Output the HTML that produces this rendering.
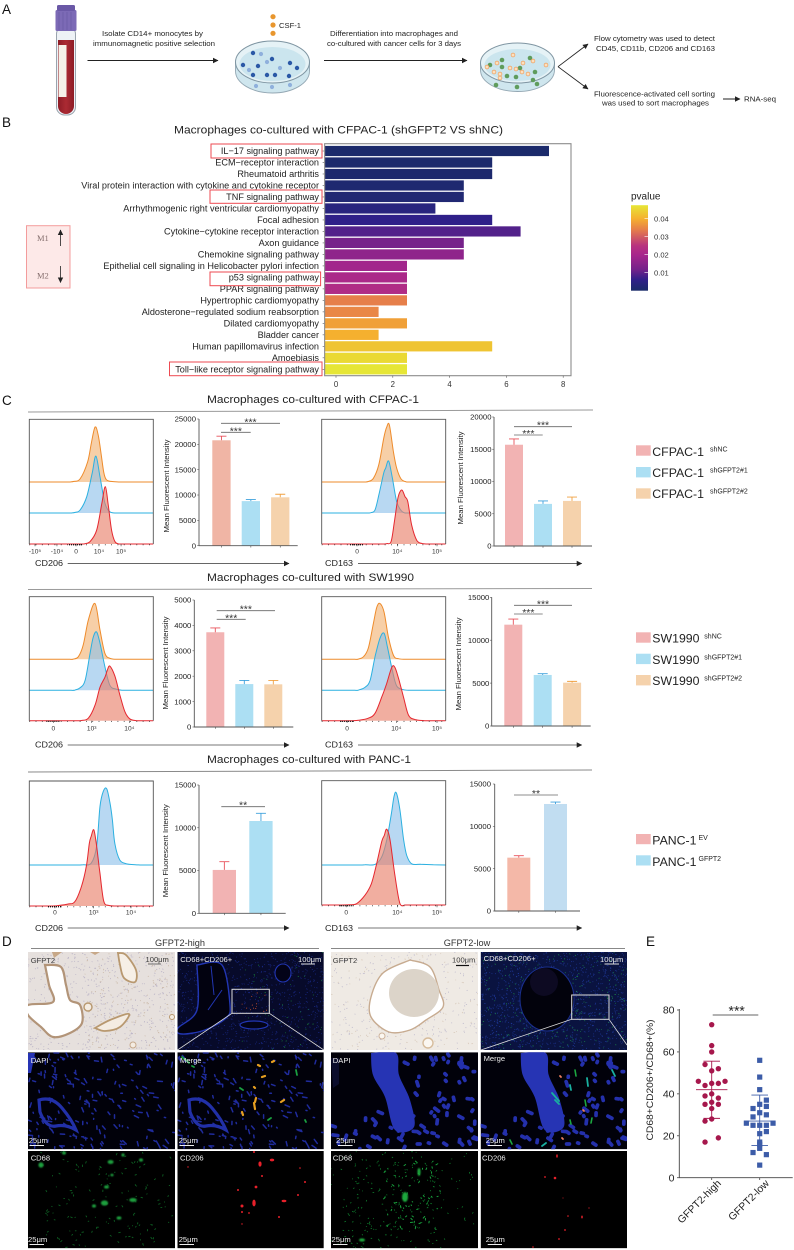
<!DOCTYPE html>
<html lang="en">
<head>
<meta charset="utf-8">
<title>Macrophage co-culture figure</title>
<style>
html,body{margin:0;padding:0;background:#fff;}
svg text{font-family:"Liberation Sans",sans-serif;}
#fig{display:block;width:794px;height:1250px;}
.lbl{fill:#eee;font-size:7.6px;}
.dk{fill:#3a3a3a;font-size:7.6px;}
.pa{fill:#222;font-size:7.4px;}
.t{fill:#222;font-size:11.3px;}
.pl{fill:#111;font-size:13.5px;}
</style>
</head>
<body>
<svg id="fig" xmlns="http://www.w3.org/2000/svg" width="794" height="1250" viewBox="0 0 794 1250">
<defs>
<marker id="ah" markerWidth="6" markerHeight="6" refX="5" refY="3" orient="auto" markerUnits="userSpaceOnUse"><path d="M0 .3L5.5 3L0 5.7z" fill="#222"/></marker>
<filter id="blur1" x="-50%" y="-50%" width="200%" height="200%"><feGaussianBlur stdDeviation="0.8"/></filter>
<linearGradient id="bloodGrad" x1="0" x2="1" y1="0" y2="0"><stop offset="0" stop-color="#8e1c26"/><stop offset=".5" stop-color="#ab2a33"/><stop offset="1" stop-color="#8e1c26"/></linearGradient>
</defs>

<!-- panel letters -->
<text class="pl" x="2" y="14">A</text>
<text class="pl" x="2" y="127">B</text>
<text class="pl" x="2" y="405">C</text>
<text class="pl" x="2" y="946">D</text>
<text class="pl" x="646" y="946">E</text>

<!-- PANEL A -->
<g>
 <g>
  <rect x="56.5" y="26" width="19" height="89" rx="8" fill="#eef2f6" stroke="#9aa4ae" stroke-width="1"/>
  <path d="M58 40H74V106a8 8 0 0 1-16 0z" fill="url(#bloodGrad)"/>
  <rect x="58.5" y="45" width="8" height="52" fill="#f6f1e9"/>
  <rect x="55.5" y="10" width="21" height="21" rx="1.5" fill="#7c6ab6"/>
  <rect x="57" y="5" width="18" height="6" rx="1.5" fill="#6a58a6"/>
  <path d="M59 12V30M63 12V30M67 12V30M71 12V30" stroke="#6655a0" stroke-width=".6"/>
 </g>
 <text class="pa" x="102" y="36" textLength="101" lengthAdjust="spacingAndGlyphs">Isolate CD14+ monocytes by</text>
 <text class="pa" x="93" y="46" textLength="122" lengthAdjust="spacingAndGlyphs">immunomagnetic positive selection</text>
 <line x1="87.5" y1="60.5" x2="218" y2="60.5" stroke="#222" stroke-width=".9" marker-end="url(#ah)"/>
 <g fill="#e8962e">
  <circle cx="273" cy="16.7" r="2.6"/><circle cx="273" cy="25" r="2.6"/><circle cx="273" cy="33.3" r="2.6"/>
 </g>
 <text class="pa" x="279" y="28" textLength="22" lengthAdjust="spacingAndGlyphs">CSF-1</text>
 <g id="dish-monocytes">
  <ellipse cx="272.5" cy="71" rx="37" ry="22" fill="#cfe6ee" stroke="#93a7b3" stroke-width=".9"/>
  <rect x="235.5" y="62" width="74" height="9" fill="#cfe6ee"/>
  <path d="M235.5 62V71M309.5 62V71" stroke="#93a7b3" stroke-width=".9"/>
  <ellipse cx="272.5" cy="62" rx="37" ry="21" fill="#e5f2f6" stroke="#7f95a2" stroke-width="1"/>
  <ellipse cx="272.5" cy="64" rx="33" ry="17" fill="#cbe5ee"/>
 </g>
 <text class="pa" x="330" y="36" textLength="128" lengthAdjust="spacingAndGlyphs">Differentiation into macrophages and</text>
 <text class="pa" x="327" y="46" textLength="134" lengthAdjust="spacingAndGlyphs">co-cultured with cancer cells for 3 days</text>
 <line x1="324" y1="60.5" x2="467" y2="60.5" stroke="#222" stroke-width=".9" marker-end="url(#ah)"/>
 <g id="dish-coculture">
  <ellipse cx="517.5" cy="70" rx="37" ry="21.5" fill="#cfe6ee" stroke="#93a7b3" stroke-width=".9"/>
  <rect x="480.5" y="63" width="74" height="7" fill="#cfe6ee"/>
  <path d="M480.5 63V70M554.5 63V70" stroke="#93a7b3" stroke-width=".9"/>
  <ellipse cx="517.5" cy="63" rx="37" ry="20" fill="#e5f2f6" stroke="#7f95a2" stroke-width="1"/>
  <ellipse cx="517.5" cy="65" rx="33" ry="16" fill="#cbe5ee"/>
 </g>
 <line x1="558" y1="66.7" x2="588" y2="44" stroke="#222" stroke-width=".9" marker-end="url(#ah)"/>
 <line x1="558" y1="66.7" x2="588" y2="89" stroke="#222" stroke-width=".9" marker-end="url(#ah)"/>
 <text class="pa" x="594" y="41" textLength="121" lengthAdjust="spacingAndGlyphs">Flow cytometry was used to detect</text>
 <text class="pa" x="596" y="51" textLength="119" lengthAdjust="spacingAndGlyphs">CD45, CD11b, CD206 and CD163</text>
 <text class="pa" x="594" y="96.5" textLength="121" lengthAdjust="spacingAndGlyphs">Fluorescence-activated cell sorting</text>
 <text class="pa" x="602" y="105.5" textLength="107" lengthAdjust="spacingAndGlyphs">was used to sort macrophages</text>
 <line x1="723" y1="99" x2="740" y2="99" stroke="#222" stroke-width=".9" marker-end="url(#ah)"/>
 <text class="pa" x="744" y="101.5" textLength="32" lengthAdjust="spacingAndGlyphs">RNA-seq</text>
</g>

<!-- PANEL B -->
<text x="174" y="133.5" font-size="11" fill="#222" textLength="329" lengthAdjust="spacingAndGlyphs">Macrophages co-cultured with CFPAC-1 (shGFPT2 VS shNC)</text>
<g>
 <rect x="26.5" y="225.7" width="43.5" height="62.3" fill="#fde9e8" stroke="#f39c9c" stroke-width="1"/>
 <text x="37" y="241" font-size="8.5" fill="#86706f" style="font-family:'Liberation Serif',serif">M1</text>
 <text x="37" y="278.5" font-size="8.5" fill="#86706f" style="font-family:'Liberation Serif',serif">M2</text>
 <line x1="60.5" y1="246" x2="60.5" y2="230" stroke="#222" stroke-width=".8" marker-end="url(#ah)"/>
 <line x1="60.5" y1="266" x2="60.5" y2="282.5" stroke="#222" stroke-width=".8" marker-end="url(#ah)"/>
</g>
<g id="enrichment-chart"></g>
<g id="pvalue-legend"></g>
<g fill="none" stroke="#ee4a52" stroke-width="1">
 <rect x="211" y="144" width="111" height="14"/>
 <rect x="210" y="190" width="112" height="13.3"/>
 <rect x="210" y="272" width="110.6" height="13.7"/>
 <rect x="169.5" y="362" width="152.5" height="13.7"/>
</g>

<!-- PANEL C -->
<text class="t" x="207" y="403" textLength="212" lengthAdjust="spacingAndGlyphs">Macrophages co-cultured with CFPAC-1</text>
<line x1="28" y1="412" x2="593" y2="410" stroke="#9a9a9a" stroke-width="1"/>
<text class="t" x="207" y="581" textLength="207" lengthAdjust="spacingAndGlyphs">Macrophages co-cultured with SW1990</text>
<line x1="28" y1="589.5" x2="592" y2="588.5" stroke="#9a9a9a" stroke-width="1"/>
<text class="t" x="207" y="763" textLength="204" lengthAdjust="spacingAndGlyphs">Macrophages co-cultured with PANC-1</text>
<line x1="28" y1="772" x2="592" y2="770" stroke="#8a8a8a" stroke-width="1"/>

<g id="hist-a"></g>
<g id="hist-b"></g>
<g id="hist-c"></g>
<g id="hist-d"></g>
<g id="hist-e"></g>
<g id="hist-f"></g>

<g id="bars-a"></g>
<g id="bars-b"></g>
<g id="bars-c"></g>
<g id="bars-d"></g>
<g id="bars-e"></g>
<g id="bars-f"></g>

<g font-size="8.3" fill="#222">
 <text x="35" y="566" textLength="28" lengthAdjust="spacingAndGlyphs">CD206</text>
 <line x1="67.7" y1="563.5" x2="289" y2="563.5" stroke="#333" stroke-width=".8" marker-end="url(#ah)"/>
 <text x="325" y="566" textLength="28" lengthAdjust="spacingAndGlyphs">CD163</text>
 <line x1="358" y1="563.5" x2="581.7" y2="563.5" stroke="#333" stroke-width=".8" marker-end="url(#ah)"/>
 <text x="35" y="747.5" textLength="28" lengthAdjust="spacingAndGlyphs">CD206</text>
 <line x1="67.7" y1="745" x2="289" y2="745" stroke="#777" stroke-width="1" marker-end="url(#ah)"/>
 <text x="325" y="747.5" textLength="28" lengthAdjust="spacingAndGlyphs">CD163</text>
 <line x1="358" y1="745" x2="581.7" y2="745" stroke="#777" stroke-width="1" marker-end="url(#ah)"/>
 <text x="35" y="931" textLength="28" lengthAdjust="spacingAndGlyphs">CD206</text>
 <line x1="67.7" y1="928" x2="289" y2="928" stroke="#777" stroke-width="1" marker-end="url(#ah)"/>
 <text x="325" y="931" textLength="28" lengthAdjust="spacingAndGlyphs">CD163</text>
 <line x1="358" y1="928" x2="581.7" y2="928" stroke="#777" stroke-width="1" marker-end="url(#ah)"/>
</g>

<!-- legends -->
<g fill="#222">
 <rect x="636" y="445.3" width="14.7" height="10.4" fill="#f2b3b3"/>
 <rect x="636" y="467" width="14.7" height="10.4" fill="#acdff3"/>
 <rect x="636" y="488.3" width="14.7" height="10.4" fill="#f5d2ac"/>
 <text x="652.3" y="456" font-size="12.3">CFPAC-1</text>
 <text x="710" y="451.5" font-size="7">shNC</text>
 <text x="652.3" y="477" font-size="12.3">CFPAC-1</text>
 <text x="710" y="472.5" font-size="7">shGFPT2#1</text>
 <text x="652.3" y="498" font-size="12.3">CFPAC-1</text>
 <text x="710" y="493.5" font-size="7">shGFPT2#2</text>
</g>
<g fill="#222">
 <rect x="636" y="632.3" width="14.7" height="10.4" fill="#f2b3b3"/>
 <rect x="636" y="653.7" width="14.7" height="10.4" fill="#acdff3"/>
 <rect x="636" y="675" width="14.7" height="10.4" fill="#f5d2ac"/>
 <text x="652.3" y="642.5" font-size="12.3">SW1990</text>
 <text x="704.3" y="638.5" font-size="7">shNC</text>
 <text x="652.3" y="664" font-size="12.3">SW1990</text>
 <text x="704.3" y="659.5" font-size="7">shGFPT2#1</text>
 <text x="652.3" y="685" font-size="12.3">SW1990</text>
 <text x="704.3" y="680.5" font-size="7">shGFPT2#2</text>
</g>
<g fill="#222">
 <rect x="636" y="834" width="14.7" height="10.2" fill="#f2b3b3"/>
 <rect x="636" y="855.3" width="14.7" height="10.2" fill="#acdff3"/>
 <text x="652.3" y="844.5" font-size="12.3">PANC-1</text>
 <text x="698.5" y="840" font-size="7">EV</text>
 <text x="652.3" y="866" font-size="12.3">PANC-1</text>
 <text x="698.5" y="861" font-size="7">GFPT2</text>
</g>

<!-- PANEL D -->
<text x="180" y="946" font-size="9.2" fill="#333" text-anchor="middle">GFPT2-high</text>
<line x1="31" y1="948.5" x2="319" y2="948.5" stroke="#888" stroke-width="1"/>
<text x="467" y="946" font-size="9.2" fill="#333" text-anchor="middle">GFPT2-low</text>
<line x1="331" y1="948.5" x2="625" y2="948.5" stroke="#888" stroke-width="1"/>

<svg x="28" y="952" width="147" height="98" viewBox="28 952 147 98">
 <rect x="28" y="952" width="147" height="98" fill="#e6e0dd"/>
 <g id="mg-ihc-high"></g>
 <path class="blob" d="M45 965L61 967L66 985L70 1000L80 1005L82 1023L70 1033L53 1037L41 1027L28 1015L28 1005L53 1002L49 985Z" fill="#fff" stroke="#b29478" stroke-width="2.2"/>
 <path class="blob" d="M118 953L126 955L136 970L135 982L124 978L120 965Z" fill="#f6efe6" stroke="#b8986f" stroke-width="1.8"/>
 <path class="blob" d="M95 1028L110 1020L129 1014L120 1027L105 1031Z" fill="#f4ece2" stroke="#b8986f" stroke-width="1.8"/>
 <circle cx="88" cy="1007" r="4" fill="#f4ece2" stroke="#b8986f" stroke-width="1.4"/>
 <circle cx="172" cy="1017" r="2.5" fill="#f4ece2" stroke="#b8986f" stroke-width="1"/>
 <circle cx="133" cy="1045" r="3" fill="#f4ece2" stroke="#c6a98c" stroke-width="1"/>
 <path d="M52 952H62L54 958ZM90 952H100L95 955Z" fill="#c7a888"/>
</svg>
<svg x="177.5" y="952" width="146.3" height="98" viewBox="177.5 952 146.3 98">
 <rect x="177.5" y="952" width="146.3" height="98" fill="#070a2a"/>
 <g id="mg-if-high"></g>
 <path class="blob" d="M197 965L222 965L230 1005L226 1018L205 1030L182 1034L178 1028L197 1010Z" fill="#020210" stroke="#2236b4" stroke-width="1.4"/>
 <ellipse cx="283" cy="973" rx="8" ry="9" fill="#030318" stroke="#2236b4" stroke-width="1.1"/>
 <ellipse cx="254" cy="1025" rx="14" ry="4" fill="#030318" stroke="#2236b4" stroke-width="1.2"/>
 <path d="M211 966L214 995M222 990L208 1010" stroke="#2236b4" stroke-width="1" fill="none"/>
 <rect x="232" y="989.3" width="37.3" height="24" fill="none" stroke="#ddd" stroke-width="1"/>
 <path d="M232 1013.3L177.5 1050M269.3 1013.3L323.8 1050" stroke="#ddd" stroke-width=".8"/>
</svg>
<svg x="331" y="952" width="147" height="98" viewBox="331 952 147 98">
 <rect x="331" y="952" width="147" height="98" fill="#efeae4"/>
 <g id="mg-ihc-low"></g>
 <path class="blob" d="M410 960L430 967L439 990L443 1007L426 1020L410 1030L389 1032L371 1017L371 997L383 973Z" fill="#fff" stroke="#c7ab90" stroke-width="1.4"/>
 <ellipse cx="414" cy="993" rx="25" ry="24" fill="#dcd4c9"/>
 <circle cx="428" cy="1043" r="5" fill="#fbf7f1" stroke="#d6bc9c" stroke-width="1.4"/>
 <circle cx="382" cy="1036" r="3" fill="#fbf7f1" stroke="#cdb39c" stroke-width="1"/>
</svg>
<svg x="480.7" y="952" width="146.3" height="98" viewBox="480.7 952 146.3 98">
 <rect x="480.7" y="952" width="146.3" height="98" fill="#0a1340"/>
 <g id="mg-if-low"></g>
 <ellipse cx="547" cy="999" rx="27" ry="32" fill="#02020c" stroke="#1a2f8e" stroke-width="1"/>
 <ellipse cx="544" cy="982" rx="14" ry="14" fill="#0d0a22"/>
 <rect x="571.7" y="995" width="37.3" height="24.3" fill="none" stroke="#ddd" stroke-width="1"/>
 <path d="M571.7 1019.3L481 1050M609 1019.3L627 1045" stroke="#ddd" stroke-width=".8"/>
</svg>

<svg x="28" y="1052.3" width="147" height="97" viewBox="28 1052.3 147 97">
 <rect x="28" y="1052.3" width="147" height="97" fill="#01010a"/>
 <g id="mg-dapi-high"></g>
 <path d="M39 1100Q52 1096 62 1108T76 1130Q66 1124 56 1126T40 1112Z" fill="none" stroke="#2230a8" stroke-width="3.2"/>
 <path d="M28 1053H35L31 1073H28Z" fill="#2634b4"/>
</svg>
<svg x="177.5" y="1052.3" width="146.3" height="97" viewBox="177.5 1052.3 146.3 97">
 <rect x="177.5" y="1052.3" width="146.3" height="97" fill="#01010a"/>
 <g id="mg-merge-high"></g>
 <path d="M189 1100Q202 1096 212 1108T226 1130Q216 1124 206 1126T190 1112Z" fill="none" stroke="#2230a8" stroke-width="3.2"/>
 <path d="M254 1103l1 6M262 1077l3 -1M281 1102l3 -2M258 1065l2 1M272 1062l2 -1M242 1112l1 3M254 1087l1 1M256 1098l-1 4" stroke="#e8a020" stroke-width="2.2" stroke-linecap="round" fill="none"/>
 <path d="M186 1060l3 3M192 1066l2 1M305 1120l1 2M268 1120l3 -2M296 1070l1 5M240 1088l3 2M182 1057l2 2" stroke="#1aa040" stroke-width="1.8" stroke-linecap="round" fill="none"/>
</svg>
<svg x="331" y="1052.3" width="147" height="97" viewBox="331 1052.3 147 97">
 <rect x="331" y="1052.3" width="147" height="97" fill="#01010a"/>
 <g id="mg-dapi-low"></g>
 <path class="blob" d="M371 1053L396 1053L399 1075L410 1100L414 1127L395 1130L385 1097L373 1075Z" fill="#2634b4"/>
 <path d="M331 1058h8v26l-6 4z" fill="#0b0d2c"/>
</svg>
<svg x="480.7" y="1052.3" width="146.3" height="97" viewBox="480.7 1052.3 146.3 97">
 <rect x="480.7" y="1052.3" width="146.3" height="97" fill="#01010a"/>
 <g id="mg-merge-low"></g>
 <path class="blob" d="M520.7 1053L545.7 1053L548.7 1075L559.7 1100L563.7 1127L544.7 1130L534.7 1097L522.7 1075Z" fill="#2634b4"/>
 <path d="M552 1093l7 8M555 1100l4 4M546 1143l-4 3M587 1078l1 8M612 1070l3 6M570 1085l1 5" stroke="#19b0a0" stroke-width="1.8" stroke-linecap="round" fill="none"/>
 <path d="M585 1100l1 6M592 1118l-1 5M570 1120l1 4M510 1140l2 4M575 1070l1 6" stroke="#1ca840" stroke-width="1.6" stroke-linecap="round" fill="none"/>
 <path d="M560 1076l1 1M583 1110l1 1M562 1138l1 1" stroke="#f08060" stroke-width="1.8" stroke-linecap="round" fill="none"/>
</svg>

<svg x="28" y="1151" width="147" height="97.3" viewBox="28 1151 147 97.3">
 <rect x="28" y="1151" width="147" height="97.3" fill="#000"/>
 <g id="mg-cd68-high"></g>
 <g fill="#1c9e3c" filter="url(#blur1)">
  <ellipse cx="104.5" cy="1203" rx="3.6" ry="2.6"/><ellipse cx="133" cy="1200" rx="3.8" ry="2"/><ellipse cx="110.6" cy="1162" rx="3" ry="2"/><ellipse cx="41" cy="1165" rx="2.6" ry="2.6"/><ellipse cx="106.5" cy="1187" rx="2.4" ry="1.6"/><ellipse cx="141" cy="1160" rx="2" ry="1.6"/><ellipse cx="94" cy="1206" rx="2" ry="1.6"/><ellipse cx="119" cy="1218" rx="2.4" ry="1.6"/><ellipse cx="123" cy="1155" rx="1.6" ry="1.6"/><ellipse cx="64" cy="1153" rx="2" ry="1.6"/><ellipse cx="112" cy="1175" rx="1.6" ry="1.3"/>
 </g>
</svg>
<svg x="177.5" y="1151" width="146.3" height="97.3" viewBox="177.5 1151 146.3 97.3">
 <rect x="177.5" y="1151" width="146.3" height="97.3" fill="#000"/>
 <g fill="#e8202a">
  <ellipse cx="254" cy="1203" rx="1.7" ry="3.4"/><circle cx="242" cy="1206" r="1.5"/><circle cx="256" cy="1187" r="1.4"/><ellipse cx="260" cy="1164" rx="1.6" ry="2.6"/><ellipse cx="272" cy="1160" rx="2.2" ry="1.4"/><circle cx="262" cy="1176" r="1"/><ellipse cx="284" cy="1201" rx="2.4" ry="1.2"/><circle cx="238" cy="1190" r="1"/><circle cx="242" cy="1212" r="1"/><circle cx="305" cy="1182" r="1"/><circle cx="279" cy="1217" r="1"/><circle cx="249" cy="1213" r=".9"/><circle cx="298" cy="1195" r="1"/><circle cx="188" cy="1167" r=".7"/><circle cx="242" cy="1224" r=".7"/><circle cx="254" cy="1152" r="1"/><circle cx="300" cy="1168" r=".8"/>
 </g>
</svg>
<svg x="331" y="1151" width="147" height="97.3" viewBox="331 1151 147 97.3">
 <rect x="331" y="1151" width="147" height="97.3" fill="#000"/>
 <g id="mg-cd68-low"></g>
 <ellipse cx="405" cy="1197" rx="3" ry="5" fill="#1ca83c" filter="url(#blur1)"/>
 <ellipse cx="419" cy="1172" rx="1.6" ry="4" fill="#1ca83c" filter="url(#blur1)"/>
 <ellipse cx="362" cy="1240" rx="3" ry="1.6" fill="#1ca83c" filter="url(#blur1)"/>
</svg>
<svg x="480.7" y="1151" width="146.3" height="97.3" viewBox="480.7 1151 146.3 97.3">
 <rect x="480.7" y="1151" width="146.3" height="97.3" fill="#000"/>
 <g fill="#e8202a">
  <ellipse cx="557" cy="1156" rx=".8" ry="1.8"/><circle cx="555" cy="1178" r="1.3"/><circle cx="545" cy="1177" r=".9"/><ellipse cx="582" cy="1217" rx=".8" ry="1.5"/><circle cx="568" cy="1216" r=".8"/><circle cx="565" cy="1230" r=".9"/><circle cx="559" cy="1239" r=".9"/><circle cx="533" cy="1247" r=".8"/><circle cx="589" cy="1208" r=".6"/><circle cx="563" cy="1198" r=".5"/>
 </g>
</svg>

<g>
 <text class="dk" x="30.7" y="963">GFPT2</text>
 <text class="dk" x="145.5" y="962">100μm</text>
 <line x1="148" y1="964" x2="161" y2="964" stroke="#6e6e6e" stroke-width="1"/>
 <text class="lbl" x="180.3" y="962">CD68+CD206+</text>
 <text class="lbl" x="298" y="962">100μm</text>
 <line x1="301" y1="964" x2="315" y2="964" stroke="#ddd" stroke-width="1"/>
 <text class="dk" x="332.8" y="963">GFPT2</text>
 <text class="dk" x="452" y="962.5">100μm</text>
 <line x1="456" y1="965.5" x2="469" y2="965.5" stroke="#111" stroke-width="1.2"/>
 <text class="lbl" x="483.6" y="961">CD68+CD206+</text>
 <text class="lbl" x="600" y="962">100μm</text>
 <line x1="604.5" y1="964" x2="619" y2="964" stroke="#ddd" stroke-width="1"/>

 <text class="lbl" x="30.7" y="1063">DAPI</text>
 <text class="lbl" x="180" y="1063">Merge</text>
 <text class="lbl" x="332.8" y="1063">DAPI</text>
 <text class="lbl" x="483.6" y="1061">Merge</text>
 <text class="lbl" x="28.7" y="1143">25μm</text>
 <text class="lbl" x="178.7" y="1143">25μm</text>
 <text class="lbl" x="336" y="1143">25μm</text>
 <text class="lbl" x="485.7" y="1143">25μm</text>
 <path d="M29.5 1145.5H44M179.5 1145.5H194M338 1145.5H352.5M487.7 1145.5H502" stroke="#eee" stroke-width="1"/>

 <text class="lbl" x="30.7" y="1160.5">CD68</text>
 <text class="lbl" x="180" y="1160.5">CD206</text>
 <text class="lbl" x="332.8" y="1160.5">CD68</text>
 <text class="lbl" x="482" y="1160.5">CD206</text>
 <text class="lbl" x="28" y="1242">25μm</text>
 <text class="lbl" x="178.7" y="1242">25μm</text>
 <text class="lbl" x="331.5" y="1242">25μm</text>
 <text class="lbl" x="485.7" y="1242">25μm</text>
 <path d="M29.5 1244.5H44M179.5 1244.5H194M333 1244.5H347.5M487.7 1244.5H502" stroke="#eee" stroke-width="1"/>
</g>

<!-- PANEL E -->
<g id="scatter-chart"></g>
</svg>

<script>
// ---------- Panel B data ----------
const pathwayNames = ["IL−17 signaling pathway","ECM−receptor interaction","Rheumatoid arthritis","Viral protein interaction with cytokine and cytokine receptor","TNF signaling pathway","Arrhythmogenic right ventricular cardiomyopathy","Focal adhesion","Cytokine−cytokine receptor interaction","Axon guidance","Chemokine signaling pathway","Epithelial cell signaling in Helicobacter pylori infection","p53 signaling pathway","PPAR signaling pathway","Hypertrophic cardiomyopathy","Aldosterone−regulated sodium reabsorption","Dilated cardiomyopathy","Bladder cancer","Human papillomavirus infection","Amoebiasis","Toll−like receptor signaling pathway"];
const pathwayCounts = [7.5,5.5,5.5,4.5,4.5,3.5,5.5,6.5,4.5,4.5,2.5,2.5,2.5,2.5,1.5,2.5,1.5,5.5,2.5,2.5];
const pathwayPvalues = [0.0005,0.0008,0.001,0.0015,0.002,0.004,0.006,0.009,0.012,0.016,0.019,0.021,0.0225,0.034,0.035,0.038,0.040,0.043,0.046,0.048];
const enrichmentTicks = [0,2,4,6,8];
const pvalueStops = [0.0002,0.006,0.012,0.02,0.025,0.034,0.04,0.048];
const pvalueColors = ["#1a2b69","#2f2089","#76228a","#a8268c","#b8337f","#e67f4a","#f5b02f","#e6e636"];
const pvalueTicks = [0.01,0.02,0.03,0.04];

// ---------- Panel C bar data ----------
const groupsThree = ["shNC","shGFPT2#1","shGFPT2#2"];
const groupsTwo = ["Control","GFPT2"];
const cfpacCd206Means = [20800,8800,9550];
const cfpacCd206Errors = [800,300,600];
const cfpacCd163Means = [15700,6530,6990];
const cfpacCd163Errors = [900,450,600];
const sw1990Cd206Means = [3730,1690,1680];
const sw1990Cd206Errors = [170,145,155];
const sw1990Cd163Means = [11810,5950,5050];
const sw1990Cd163Errors = [650,150,150];
const pancCd206Means = [5070,10790];
const pancCd206Errors = [970,900];
const pancCd163Means = [6300,12640];
const pancCd163Errors = [230,230];
const ticks25k = [0,5000,10000,15000,20000,25000];
const ticks20k = [0,5000,10000,15000,20000];
const ticks5k = [0,1000,2000,3000,4000,5000];
const ticks15k = [0,5000,10000,15000];

// ---------- Panel C histogram data: [axis percent, normalized count] ----------
const cfpacCd206Orange = [[33,0],[36,.5],[41,2.5],[47,16],[50,31],[53,44],[55.5,38],[58,22],[60,8],[62,2],[66,.5],[72,0]];
const cfpacCd206Blue = [[34,0],[37,.5],[41,2.4],[46.3,13],[50.7,32],[53.7,45.6],[57,29],[61,8],[65,1],[70,0]];
const cfpacCd206Red = [[44,0],[49,2],[54.3,11],[58.4,32],[61.3,46],[63.7,31],[66.4,11],[69,2],[72,0]];
const cfpacCd163Orange = [[35,0],[37.6,.4],[41.7,3],[46,13.6],[50,35],[52.4,44],[54.6,45.6],[57.8,24.3],[60.5,11],[64,2.4],[68.5,0]];
const cfpacCd163Blue = [[38,0],[40,.3],[43,2.5],[46,14],[50,32],[51.6,36],[54,41.6],[57,28],[60.5,9],[64,2],[67,0]];
const cfpacCd163Red = [[50,0],[52.4,.3],[56,2],[58.6,18],[61.3,36],[63.2,42],[65,43],[67.2,38],[69.4,34],[72.6,15],[76.6,3],[80.6,.5],[85,0]];
const sw1990Cd206Orange = [[33,0],[35.5,.2],[39.5,2],[43.5,11.5],[47.6,31.6],[53,45],[57,23.6],[61,4.8],[65,.8],[70,0]];
const sw1990Cd206Blue = [[34,0],[36.8,.2],[41,2],[45,8],[49,30],[51.6,43],[54.3,47],[57,38],[61,19],[65,4],[70,1],[75,0]];
const sw1990Cd206Red = [[40,0],[42,.2],[47.6,2],[53,12.5],[57,27],[61,35],[63,41],[65,44],[69,36],[73,21],[77,7.5],[81,1.5],[86.5,0]];
const sw1990Cd163Orange = [[27,0],[29.6,.2],[33.6,2],[37.6,9],[41.7,29],[44.4,42],[47,45],[50.3,38],[53.8,18],[58,3],[62,.5],[67,0]];
const sw1990Cd163Blue = [[27,0],[29.6,.2],[35,2.5],[39,8],[43,27],[47,42],[50.3,46],[53,35],[57,16],[60.5,3.5],[66,.5],[71,0]];
const sw1990Cd163Red = [[25,0],[29.6,.3],[37.6,2],[43,6],[48.4,19],[52.4,30],[56.5,43],[59,43],[62,34],[66,19],[70,4.5],[75,1],[83,0]];
const pancCd206Blue = [[40,0],[43.5,.2],[50,1.5],[54.3,15],[57,47],[59.7,59],[62.4,61],[65,50],[67,36],[69,17],[73,4],[78.5,1],[84,.3],[90,0]];
const pancCd206Red = [[18,0],[22,.2],[31,1.5],[36.8,3.5],[42,15.5],[46,31.7],[48.4,50],[50,56],[52,61],[54,50],[57,26],[60,4],[64,.5],[70,0]];
const pancCd163Blue = [[30,0],[35,.2],[43,.5],[48.4,6.5],[52.4,20],[56,40],[58.3,55],[60.2,58],[63,45],[66,21],[68.5,8],[72.6,1],[80,.6],[90,.2],[100,0]];
const pancCd163Red = [[16,0],[21.5,.2],[28,1],[35,8],[40,17],[44,32],[48.4,51],[50.5,56],[52.4,61],[55,53],[59,24],[63,1.5],[67,0]];

const cd206TicksA = ["-10⁵","-10⁴","0","10⁴","10⁵"];
const cd206TickAxisA = [4.6,22.3,37.7,56.2,74];
const cd163TicksA = ["0","10⁴","10⁵"];
const cd163TickAxisA = [28.5,61,93];
const cd206TicksB = ["0","10³","10⁴"];
const cd206TickAxisB = [19.4,50.3,80.7];
const cd163TicksB = ["0","10⁴","10⁵"];
const cd163TickAxisB = [20.5,60.2,93];
const cd206TicksC = ["0","10³","10⁴"];
const cd206TickAxisC = [20.7,51.9,82];
const cd163TicksC = ["0","10⁴","10⁵"];
const cd163TickAxisC = [19.8,61,93];

// ---------- Panel E data ----------
const scatterCategories = ["GFPT2-high","GFPT2-low"];
const highValues = [73,63,60,54,52,51,46,46,45,45,44,40,39,38,36,35,35,33,28,27,19,17];
const highSlots = [0,0,0,-1,1,0,-2,2,0,1,-1,0,-1,1,0,-1,1,0,0,-1,1,-1];
const highSummary = [42,55.6,28.3];
const lowValues = [56,48,42,37,35,34,33,31,30,29,26,26,25,25,25,22,21,17,16,14,12,11,6];
const lowSlots = [0,0,0,1,0,1,-1,0,1,-1,-2,2,-1,0,1,1,0,0,0,0,-1,1,0];
const lowSummary = [27,39.4,15.4];
const scatterTicks = [0,20,40,60,80];

// ---------- helpers ----------
const NS = 'http://www.w3.org/2000/svg';
function mk(parent, tag, attrs, txt) {
  const e = document.createElementNS(NS, tag);
  for (const k in attrs) e.setAttribute(k, attrs[k]);
  if (txt !== undefined) e.textContent = txt;
  parent.appendChild(e);
  return e;
}
function $(id) { return document.getElementById(id); }

// ---------- Panel A cells ----------
const dishOne = $('dish-monocytes');
[[261,54],[249,70],[267,62],[280,68],[256,86],[272,87],[290,85]].forEach(p => {
  const c = mk(dishOne, 'circle', {cx:p[0], cy:p[1], r:2.1, fill:'#8fb0dc'});
  
  
});
[[253,53],[272,59],[243,65],[258,66],[290,63],[297,68],[267,75],[253,75],[275,75],[289,76]].forEach(p => {
  const c = mk(dishOne, 'circle', {cx:p[0], cy:p[1], r:2.2, fill:'#2a58a6'});
  
  
});
const dishTwo = $('dish-coculture');
[[502,60],[490,65],[502,67],[520,68],[530,58],[535,72],[516,77],[533,80],[517,87],[537,84],[507,76],[496,85]].forEach(p => {
  const c = mk(dishTwo, 'circle', {cx:p[0], cy:p[1], r:2.3, fill:'#5f9c5c'});
  
  
});
[[513,55],[497,63],[487,67],[494,72],[500,74],[510,68],[523,63],[516,69],[522,72],[533,61],[546,65],[528,74],[500,78]].forEach(p => {
  const c = mk(dishTwo, 'circle', {cx:p[0], cy:p[1], r:1.9, fill:'#fbe0c0', stroke:'#ee9f5e', 'stroke-width':.7});
  
  
});

// ---------- Panel B ----------
function lerpColor(a, b, t) {
  const pa = [1,3,5].map(i => parseInt(a.substr(i,2),16));
  const pb = [1,3,5].map(i => parseInt(b.substr(i,2),16));
  return 'rgb(' + pa.map((v,i) => Math.round(v + (pb[i]-v)*t)).join(',') + ')';
}
function pColor(p) {
  if (p <= pvalueStops[0]) return pvalueColors[0];
  for (let i = 1; i < pvalueStops.length; i++) {
    if (p <= pvalueStops[i]) return lerpColor(pvalueColors[i-1], pvalueColors[i], (p-pvalueStops[i-1])/(pvalueStops[i]-pvalueStops[i-1]));
  }
  return pvalueColors[pvalueColors.length-1];
}
(function drawEnrichment() {
  const g = $('enrichment-chart');
  const xs = v => 336 + v*28.4;
  const ys = i => 151 + i*11.49;
  const left = xs(-0.4), top = 143.7, right = 571, bottom = 375.7;
  pathwayNames.forEach((name, i) => {
    const t = mk(g, 'text', {x:319, y:ys(i)+3.1, 'font-size':9.15, fill:'#222', 'text-anchor':'end'}, name);
    
    
    const tk = mk(g, 'line', {x1:left-2, x2:left, y1:ys(i), y2:ys(i), stroke:'#555', 'stroke-width':.6});
    
    
    const b = mk(g, 'rect', {x:left, y:ys(i)-5.1, width:xs(pathwayCounts[i])-left, height:10.2, fill:pColor(pathwayPvalues[i])});
    
    
  });
  const frame = mk(g, 'rect', {x:left, y:top, width:right-left, height:bottom-top, fill:'none', stroke:'#8b8b8b', 'stroke-width':1.1});
  
  
  enrichmentTicks.forEach(v => {
    const tk = mk(g, 'line', {x1:xs(v), x2:xs(v), y1:bottom, y2:bottom+2, stroke:'#555', 'stroke-width':.6});
    
    
    const t = mk(g, 'text', {x:xs(v), y:387, 'font-size':7.8, fill:'#333', 'text-anchor':'middle'}, String(v));
    
    
  });
  const leg = $('pvalue-legend');
  const yc = p => 290.7 - p*1800;
  const title = mk(leg, 'text', {x:631, y:199.5, 'font-size':10, fill:'#222'}, 'pvalue');
  
  
  const defs = document.querySelector('defs');
  const gr = mk(defs, 'linearGradient', {id:'pvGrad', x1:0, x2:0, y1:1, y2:0});
  const pMax = 0.0475;
  pvalueStops.forEach((p, i) => {
    mk(gr, 'stop', {offset:Math.min(1, p/pMax), 'stop-color':pvalueColors[i]});
  });
  const cb = mk(leg, 'rect', {x:631, y:yc(pMax), width:17, height:yc(0)-yc(pMax), fill:'url(#pvGrad)'});
  
  
  pvalueTicks.forEach(p => {
    const tk = mk(leg, 'line', {x1:644.5, x2:648, y1:yc(p), y2:yc(p), stroke:'#fff', 'stroke-width':.6});
    
    
    const t = mk(leg, 'text', {x:654, y:yc(p)+2.7, 'font-size':7.6, fill:'#333'}, p.toFixed(2));
    
    
  });
})();

// ---------- Histograms ----------
const histStyles = {
  orange:{stroke:'#ee8b2b', fill:'#f4bc85', op:.72},
  blue:{stroke:'#2bb0e0', fill:'#8cc0ea', op:.62},
  red:{stroke:'#e5272f', fill:'#e87c66', op:.62}
};
function smoothPath(pts) {
  let d = 'M' + pts[0][0].toFixed(1) + ' ' + pts[0][1].toFixed(1);
  for (let i = 0; i < pts.length-1; i++) {
    const p0 = pts[Math.max(0,i-1)], p1 = pts[i], p2 = pts[i+1], p3 = pts[Math.min(pts.length-1,i+2)];
    const c1x = p1[0] + (p2[0]-p0[0])/6, c1y = p1[1] + (p2[1]-p0[1])/6;
    const c2x = p2[0] - (p3[0]-p1[0])/6, c2y = p2[1] - (p3[1]-p1[1])/6;
    d += 'C' + [c1x,c1y,c2x,c2y,p2[0],p2[1]].map(v => v.toFixed(1)).join(' ');
  }
  return d;
}
function drawHist(id, box, layers, tickLabels, tickAxis, tickY) {
  const g = $(id);
  const xs = p => box.x + p/100*box.w;
  layers.forEach(l => {
    const st = histStyles[l.color];
    const ysv = v => l.base - v/100*box.h;
    const pts = l.data.map(d => [xs(d[0]), Math.min(l.base, ysv(d[1]))]);
    const curve = smoothPath(pts);
    const area = mk(g, 'path', {d: curve + 'L' + pts[pts.length-1][0].toFixed(1) + ' ' + l.base + 'L' + pts[0][0].toFixed(1) + ' ' + l.base + 'Z', fill:st.fill, 'fill-opacity':st.op});
    
    
    const line = mk(g, 'path', {d:'M' + box.x + ' ' + l.base + 'L' + pts[0][0].toFixed(1) + ' ' + pts[0][1].toFixed(1) + curve.replace(/^M[^C]*/, '') + 'L' + (box.x+box.w) + ' ' + l.base, fill:'none', stroke:st.stroke, 'stroke-width':1});
    
    
  });
  const bottom = box.y + box.h;
  const fr = mk(g, 'path', {d:'M' + box.x + ' ' + bottom + 'V' + box.y + 'H' + (box.x+box.w) + 'V' + bottom, fill:'none', stroke:'#555', 'stroke-width':.9});
  
  
  const mt = mk(g, 'line', {x1:box.x, x2:box.x+box.w, y1:bottom+.7, y2:bottom+.7, stroke:'#333', 'stroke-width':1, 'stroke-dasharray':'.8 5.5'});
  
  
  tickLabels.forEach((lab, i) => {
    const x = xs(tickAxis[i]);
    const tk = mk(g, 'line', {x1:x, x2:x, y1:bottom, y2:bottom+2.2, stroke:'#333', 'stroke-width':.6});
    
    
    const t = mk(g, 'text', {x:x, y:tickY, 'font-size':6.6, fill:'#333', 'text-anchor':'middle'}, lab);
    
    
  });
  const zeroIdx = tickLabels.indexOf('0');
  const zx = xs(tickAxis[zeroIdx]);
  const zt = mk(g, 'line', {x1:zx-7, x2:zx+7, y1:bottom+.7, y2:bottom+.7, stroke:'#111', 'stroke-width':1.3, 'stroke-dasharray':'1 1'});
  
  
}
const leftCol = 29.3, rightCol = 321.7, histW = 124;
drawHist('hist-a', {x:leftCol,y:419.3,w:histW,h:124.7}, [
  {color:'orange', base:482, data:cfpacCd206Orange},
  {color:'blue', base:513, data:cfpacCd206Blue},
  {color:'red', base:544, data:cfpacCd206Red}], cd206TicksA, cd206TickAxisA, 553.5);
drawHist('hist-b', {x:rightCol,y:419.3,w:histW,h:124.7}, [
  {color:'orange', base:482, data:cfpacCd163Orange},
  {color:'blue', base:513, data:cfpacCd163Blue},
  {color:'red', base:544, data:cfpacCd163Red}], cd163TicksA, cd163TickAxisA, 553.5);
drawHist('hist-c', {x:leftCol,y:596.7,w:histW,h:124}, [
  {color:'orange', base:659.3, data:sw1990Cd206Orange},
  {color:'blue', base:690.3, data:sw1990Cd206Blue},
  {color:'red', base:720.7, data:sw1990Cd206Red}], cd206TicksB, cd206TickAxisB, 730.5);
drawHist('hist-d', {x:rightCol,y:596.7,w:histW,h:124}, [
  {color:'orange', base:659.3, data:sw1990Cd163Orange},
  {color:'blue', base:690.3, data:sw1990Cd163Blue},
  {color:'red', base:720.7, data:sw1990Cd163Red}], cd163TicksB, cd163TickAxisB, 730.5);
drawHist('hist-e', {x:leftCol,y:781,w:histW,h:125}, [
  {color:'blue', base:865, data:pancCd206Blue},
  {color:'red', base:906, data:pancCd206Red}], cd206TicksC, cd206TickAxisC, 914.5);
drawHist('hist-f', {x:rightCol,y:780.7,w:histW,h:124.3}, [
  {color:'blue', base:865, data:pancCd163Blue},
  {color:'red', base:905, data:pancCd163Red}], cd163TicksC, cd163TickAxisC, 914.5);

// ---------- Bar charts ----------
const errColors = ['#e8505a','#3da0dc','#f0a040'];
function drawBars(id, o) {
  const g = $(id);
  const ys = v => o.zero - (v/o.max)*(o.zero-o.top);
  const bx = i => o.first + i*o.pitch;
  o.means.forEach((m, i) => {
    const cx = bx(i) + o.barW/2;
    const b = mk(g, 'rect', {x:bx(i), y:ys(m), width:o.barW, height:o.zero-ys(m), fill:o.colors[i]});
    
    
    const hi = ys(m + o.errors[i]);
    const e = mk(g, 'path', {d:'M' + cx + ' ' + ys(m) + 'V' + hi + 'M' + (cx-5) + ' ' + hi + 'H' + (cx+5), stroke:o.errCol ? o.errCol[i] : errColors[i], 'stroke-width':.9, fill:'none'});
    
    
    const tk = mk(g, 'line', {x1:cx, x2:cx, y1:o.zero, y2:o.zero+1.8, stroke:'#444', 'stroke-width':.6});
    
    
  });
  const ax = mk(g, 'path', {d:'M' + o.axis + ' ' + o.top + 'V' + o.zero + 'H' + o.right, fill:'none', stroke:'#555', 'stroke-width':.9});
  
  
  o.ticks.forEach(v => {
    const tk = mk(g, 'line', {x1:o.axis-1.8, x2:o.axis, y1:ys(v), y2:ys(v), stroke:'#555', 'stroke-width':.6});
    
    
    const t = mk(g, 'text', {x:o.labelRight, y:ys(v)+2.7, 'font-size':7.7, fill:'#222', 'text-anchor':'end'}, String(v));
    
    
  });
  if (o.ylabelX) {
    const t = mk(g, 'text', {x:0, y:0, 'font-size':7, fill:'#222', 'text-anchor':'middle', transform:'translate(' + o.ylabelX + ' ' + o.ylabelY + ') rotate(-90)', textLength:93, lengthAdjust:'spacingAndGlyphs'}, 'Mean Fluorescent Intensity');
    
    
  }
  o.sig.forEach(s => {
    const l = mk(g, 'line', {x1:s.x1, x2:s.x2, y1:s.y, y2:s.y, stroke:'#666', 'stroke-width':.8});
    
    
    const t = mk(g, 'text', {x:(s.x1+s.x2)/2, y:s.y+2, 'font-size':10.5, fill:'#333', 'text-anchor':'middle'}, s.stars);
    
    
  });
}
const threeColors = ['#f2b3b3','#acdff3','#f5d2ac'];
const threeNames = ['shnc','shgfpt2-1','shgfpt2-2'];
drawBars('bars-a', {axis:199, top:419, zero:545.7, right:297.7, max:25000, ticks:ticks25k, first:212.3, barW:18.3, pitch:29.4, means:cfpacCd206Means, errors:cfpacCd206Errors, colors:['#f0b5a5','#acdff3','#f5d2ac'], names:threeNames, labelRight:196, ylabelX:169, ylabelY:486, sig:[{x1:221,x2:280,y:423.3,stars:'***'},{x1:221,x2:250.7,y:432.3,stars:'***'}]});
drawBars('bars-b', {axis:494, top:417, zero:546, right:592, max:20000, ticks:ticks20k, first:505, barW:18, pitch:29, means:cfpacCd163Means, errors:cfpacCd163Errors, colors:threeColors, names:threeNames, labelRight:491.5, ylabelX:463, ylabelY:478, sig:[{x1:514,x2:572,y:426.7,stars:'***'},{x1:514,x2:542.7,y:435,stars:'***'}]});
drawBars('bars-c', {axis:194.3, top:600, zero:727, right:293.3, max:5000, ticks:ticks5k, first:206.3, barW:18, pitch:29, means:sw1990Cd206Means, errors:sw1990Cd206Errors, colors:threeColors, names:threeNames, labelRight:191.3, ylabelX:168, ylabelY:663, sig:[{x1:216.7,x2:275,y:610.7,stars:'***'},{x1:216.7,x2:245.7,y:619.3,stars:'***'}]});
drawBars('bars-d', {axis:491.7, top:597.3, zero:726, right:590.7, max:15000, ticks:ticks15k, first:504.3, barW:18, pitch:29.4, means:sw1990Cd163Means, errors:sw1990Cd163Errors, colors:threeColors, names:threeNames, labelRight:489.3, ylabelX:461, ylabelY:664, sig:[{x1:514,x2:572,y:605.3,stars:'***'},{x1:514,x2:542.7,y:614,stars:'***'}]});
drawBars('bars-e', {axis:199, top:785, zero:913.3, right:285.7, max:15000, ticks:ticks15k, first:212.7, barW:23.3, pitch:36.6, means:pancCd206Means, errors:pancCd206Errors, colors:['#f2b3b3','#acdff3'], names:['ev','gfpt2'], errCol:['#e8505a','#3da0dc'], labelRight:196, ylabelX:168, ylabelY:850.7, sig:[{x1:221.3,x2:265,y:806.7,stars:'**'}]});
drawBars('bars-f', {axis:494.7, top:784, zero:911, right:580, max:15000, ticks:ticks15k, first:507.3, barW:23, pitch:36.7, means:pancCd163Means, errors:pancCd163Errors, colors:['#f4b8a8','#c1ddf1'], names:['ev','gfpt2'], errCol:['#e8505a','#3da0dc'], labelRight:491, sig:[{x1:514,x2:558,y:795,stars:'**'}]});

// ---------- Panel E ----------
(function drawScatter() {
  const g = $('scatter-chart');
  const ys = v => 1177.7 - v/80*167.7;
  const cx = [711.7, 759.7];
  const slot = 6.67;
  const ax = mk(g, 'path', {d:'M679.3 1009V1177.7H792.7', fill:'none', stroke:'#444', 'stroke-width':.9});
  
  
  scatterTicks.forEach(v => {
    const tk = mk(g, 'line', {x1:677, x2:679.3, y1:ys(v), y2:ys(v), stroke:'#444', 'stroke-width':.8});
    
    
    const t = mk(g, 'text', {x:674.5, y:ys(v)+3.7, 'font-size':10.5, fill:'#222', 'text-anchor':'end'}, String(v));
    
    
  });
  const yt = mk(g, 'text', {x:0, y:0, 'font-size':9.2, fill:'#222', 'text-anchor':'middle', transform:'translate(653 1080) rotate(-90)', textLength:121, lengthAdjust:'spacingAndGlyphs'}, 'CD68+CD206+/CD68+(%)');
  
  
  scatterCategories.forEach((c, i) => {
    const tk = mk(g, 'line', {x1:cx[i], x2:cx[i], y1:1177.7, y2:1180, stroke:'#444', 'stroke-width':.8});
    
    
    const ex = cx[i] + 10, ey = 1184;
    const t = mk(g, 'text', {x:ex, y:ey, 'font-size':10.4, fill:'#222', 'text-anchor':'end', transform:'rotate(-45 ' + ex + ' ' + ey + ')'}, c);
    
    
  });
  highValues.forEach((v, i) => {
    const p = mk(g, 'circle', {cx:cx[0]+highSlots[i]*slot, cy:ys(v), r:2.7, fill:'#a6174c'});
    
    
  });
  lowValues.forEach((v, i) => {
    const p = mk(g, 'rect', {x:cx[1]+lowSlots[i]*slot-2.6, y:ys(v)-2.6, width:5.2, height:5.2, fill:'#3c5ca8'});
    
    
  });
  [[highSummary,'#a6174c'],[lowSummary,'#3c5ca8']].forEach((s, i) => {
    const c = cx[i], sm = s[0];
    const m = mk(g, 'path', {d:'M' + (c-15.7) + ' ' + ys(sm[0]) + 'H' + (c+15.7) + 'M' + c + ' ' + ys(sm[1]) + 'V' + ys(sm[2]) + 'M' + (c-8.3) + ' ' + ys(sm[1]) + 'H' + (c+8.3) + 'M' + (c-8.3) + ' ' + ys(sm[2]) + 'H' + (c+8.3), stroke:s[1], 'stroke-width':.9, fill:'none'});
    
    
  });
  const sl = mk(g, 'line', {x1:712.7, x2:758.3, y1:1015, y2:1015, stroke:'#333', 'stroke-width':.8});
  
  
  const st = mk(g, 'text', {x:736.7, y:1015.5, 'font-size':14, fill:'#222', 'text-anchor':'middle'}, '***');
  
  
})();

// ---------- Micrograph textures (decorative tissue, seeded) ----------
document.querySelectorAll('path.blob').forEach(p => {
  const nums = p.getAttribute('d').match(/[\d.]+/g).map(Number);
  const pts = [];
  for (let i = 0; i < nums.length; i += 2) pts.push([nums[i], nums[i+1]]);
  p.setAttribute('d', smoothPath(pts.concat([pts[0]])) + 'Z');
});
function seeded(seed) {
  return function () {
    seed = seed + 0x6D2B79F5 | 0;
    let t = Math.imul(seed ^ seed >>> 15, 1 | seed);
    t = t + Math.imul(t ^ t >>> 7, 61 | t) ^ t;
    return ((t ^ t >>> 14) >>> 0) / 4294967296;
  };
}
function speckle(id, box, opt) {
  const r = seeded(opt.seed);
  let d = '';
  let placed = 0, tries = 0;
  while (placed < opt.n && tries < opt.n*6) {
    tries++;
    const x = box[0] + r()*box[2], y = box[1] + r()*box[3];
    if (opt.keep && !opt.keep(x, y, r)) continue;
    const a = r()*Math.PI*(opt.ang || 1);
    const l = opt.lmin + r()*(opt.lmax-opt.lmin);
    d += 'M' + x.toFixed(1) + ' ' + y.toFixed(1) + 'l' + (Math.cos(a)*l).toFixed(1) + ' ' + (Math.sin(a)*l).toFixed(1);
    placed++;
  }
  const p = mk($(id), 'path', {d:d, fill:'none', stroke:opt.color, 'stroke-width':opt.w, 'stroke-linecap':'round', 'stroke-opacity':opt.op || 1});
  
  
}
const bIhcH = [28,952,147,98], bIfH = [177.5,952,146.3,98], bIhcL = [331,952,147,98], bIfL = [480.7,952,146.3,98];
speckle('mg-ihc-high', bIhcH, {seed:11, n:520, lmin:.2, lmax:.8, w:.8, color:'#a6a0bc', op:.7, name:'ihc-nuclei'});
speckle('mg-ihc-high', bIhcH, {seed:12, n:160, lmin:.2, lmax:1, w:.8, color:'#b59b80', op:.6, name:'ihc-stroma-stain', keep:(x,y)=>x>85});
speckle('mg-ihc-low', bIhcL, {seed:21, n:260, lmin:.2, lmax:.6, w:.8, color:'#a8a4c2', op:.7, name:'ihc-nuclei'});
speckle('mg-ihc-low', bIhcL, {seed:22, n:120, lmin:.2, lmax:1, w:.8, color:'#c9b6a2', op:.6, name:'ihc-stroma-stain'});
speckle('mg-if-high', bIfH, {seed:31, n:900, lmin:.2, lmax:.8, w:.7, color:'#2034a6', op:.75, name:'overview-nuclei'});
speckle('mg-if-high', bIfH, {seed:32, n:50, lmin:.1, lmax:.5, w:.7, color:'#1ea040', name:'overview-cd68-signal', keep:(x,y)=>x>240});
speckle('mg-if-high', [240,990,30,22], {seed:33, n:14, lmin:.1, lmax:.5, w:.8, color:'#e05a30', name:'overview-cd206-signal'});
speckle('mg-if-low', bIfL, {seed:41, n:1100, lmin:.2, lmax:.9, w:.7, color:'#2644b6', op:.75, name:'overview-nuclei'});
speckle('mg-if-low', bIfL, {seed:42, n:260, lmin:.2, lmax:.9, w:.7, color:'#1f9e4c', op:.85, name:'overview-cd68-signal'});
const nucleiOpts = {seed:51, n:190, lmin:.8, lmax:5, w:1.5, color:'#1f2b9c', ang:.6};
speckle('mg-dapi-high', [28,1052,147,97], Object.assign({name:'dapi-nuclei'}, nucleiOpts));
speckle('mg-merge-high', [177.5,1052,146.3,97], Object.assign({name:'merge-nuclei'}, nucleiOpts));
const lowNuc = {n:85, lmin:.8, lmax:5, w:3.7, color:'#2430ac', ang:.7};
speckle('mg-dapi-low', [331,1052,147,97], Object.assign({seed:61, name:'dapi-nuclei', keep:(x,y)=>x>385 || y>1110}, lowNuc));
speckle('mg-merge-low', [480.7,1052,146.3,97], Object.assign({seed:61, name:'merge-nuclei', keep:(x,y)=>x>534 || y>1110}, lowNuc));
speckle('mg-cd68-high', [28,1151,147,97], {seed:71, n:140, lmin:.2, lmax:1.8, w:.9, color:'#0f6e28', op:.85, name:'cd68-signal', keep:(x,y)=>x>40});
speckle('mg-cd68-low', [331,1151,147,97], {seed:81, n:240, lmin:.2, lmax:1.2, w:.75, color:'#0f8630', name:'cd68-signal', keep:(x,y,r)=> r() < (x>345 && x<440 ? 1 : .35)});
speckle('mg-cd68-low', [380,1160,60,70], {seed:82, n:55, lmin:.5, lmax:2.4, w:1, color:'#18a03c', name:'cd68-dense-signal'});
</script>
</body>
</html>
